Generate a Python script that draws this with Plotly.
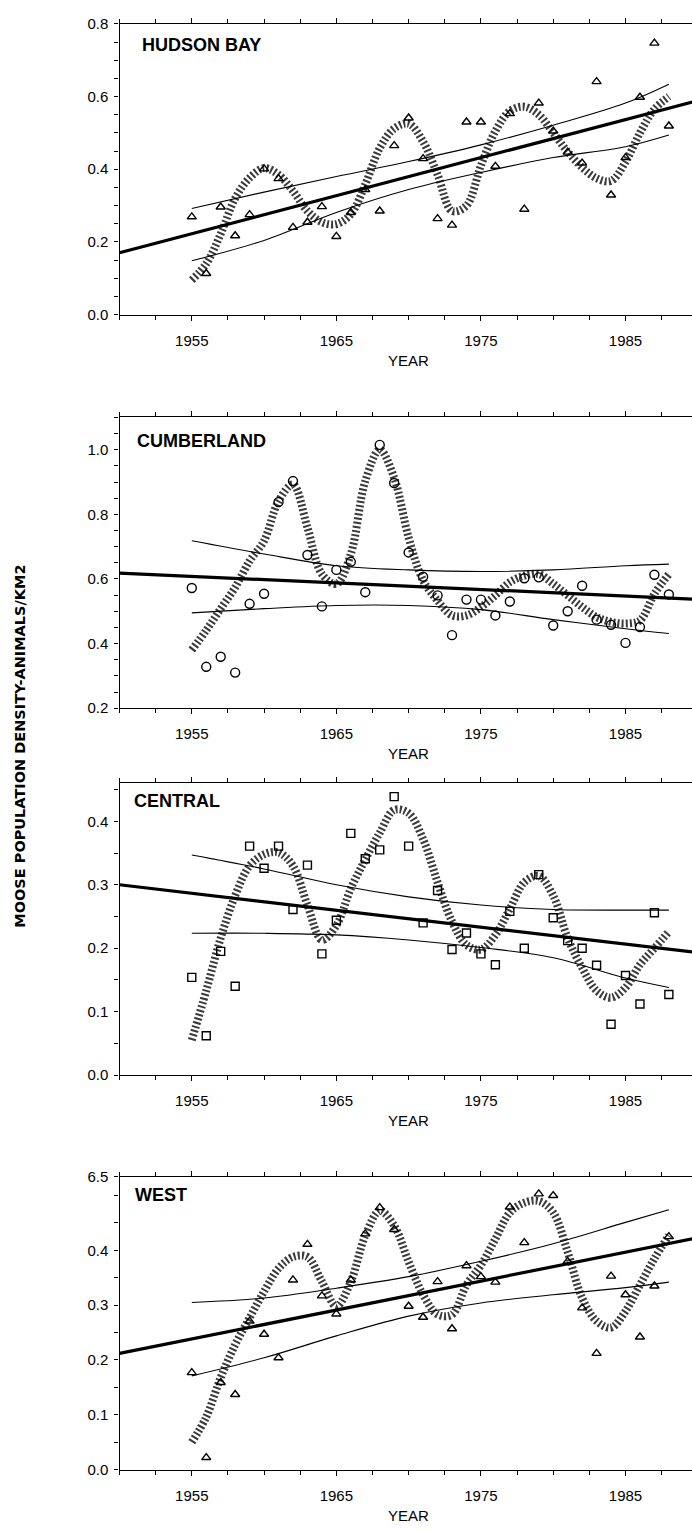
import plotly.graph_objects as go

# ---------------- data ----------------
years = list(range(1955, 1989))
ci_years = [1955, 1960, 1965, 1970, 1975, 1980, 1985, 1988]
trend_years = [1950, 1990]

# HUDSON BAY
hudson_obs = [0.269, 0.113, 0.296, 0.217, 0.275, 0.401, 0.374, 0.240, 0.254, 0.297,
              0.215, 0.281, 0.344, 0.285, 0.465, 0.541, 0.429, 0.264, 0.246, 0.530,
              0.530, 0.408, 0.553, 0.290, 0.582, 0.505, 0.447, 0.417, 0.641, 0.329,
              0.432, 0.598, 0.747, 0.519]
hudson_cycle = [0.095, 0.140, 0.222, 0.320, 0.376, 0.403, 0.385, 0.340, 0.285, 0.254,
                0.249, 0.276, 0.358, 0.458, 0.512, 0.525, 0.476, 0.385, 0.285, 0.300,
                0.410, 0.505, 0.560, 0.572, 0.550, 0.500, 0.448, 0.405, 0.375, 0.368,
                0.420, 0.500, 0.565, 0.600]
hudson_upper = [0.292, 0.337, 0.380, 0.421, 0.467, 0.521, 0.582, 0.634]
hudson_lower = [0.148, 0.204, 0.281, 0.344, 0.391, 0.432, 0.462, 0.494]
hudson_trend = [0.170, 0.589]

# CUMBERLAND
cumb_obs = [0.572, 0.328, 0.359, 0.310, 0.523, 0.554, 0.838, 0.903, 0.674, 0.515,
            0.628, 0.653, 0.559, 1.015, 0.897, 0.682, 0.607, 0.549, 0.426, 0.536,
            0.536, 0.487, 0.530, 0.602, 0.605, 0.456, 0.500, 0.579, 0.474, 0.458,
            0.402, 0.451, 0.613, 0.552]
cumb_cycle = [0.380, 0.441, 0.508, 0.574, 0.656, 0.718, 0.841, 0.892, 0.759, 0.615,
              0.585, 0.677, 0.903, 1.000, 0.913, 0.728, 0.595, 0.533, 0.487, 0.487,
              0.513, 0.549, 0.590, 0.610, 0.615, 0.585, 0.549, 0.513, 0.482, 0.467,
              0.462, 0.472, 0.554, 0.615]
cumb_upper = [0.718, 0.677, 0.641, 0.628, 0.623, 0.628, 0.641, 0.646]
cumb_lower = [0.495, 0.508, 0.518, 0.518, 0.505, 0.474, 0.446, 0.431]
cumb_trend = [0.618, 0.537]

# CENTRAL
central_obs = [0.154, 0.062, 0.195, 0.140, 0.361, 0.326, 0.361, 0.261, 0.331, 0.191,
               0.244, 0.381, 0.341, 0.355, 0.439, 0.361, 0.240, 0.291, 0.198, 0.224,
               0.191, 0.174, 0.258, 0.200, 0.316, 0.248, 0.212, 0.200, 0.173, 0.080,
               0.157, 0.112, 0.256, 0.127]
central_cycle = [0.055, 0.133, 0.216, 0.283, 0.330, 0.348, 0.351, 0.330, 0.268, 0.213,
                 0.236, 0.294, 0.340, 0.382, 0.418, 0.413, 0.372, 0.304, 0.242, 0.205,
                 0.198, 0.221, 0.262, 0.304, 0.314, 0.283, 0.216, 0.169, 0.133, 0.122,
                 0.138, 0.174, 0.200, 0.226]
central_upper = [0.347, 0.325, 0.300, 0.281, 0.268, 0.261, 0.260, 0.260]
central_lower = [0.2235, 0.2235, 0.221, 0.213, 0.201, 0.185, 0.153, 0.138]
central_trend = [0.300, 0.193]

# WEST
west_obs = [0.177, 0.022, 0.159, 0.137, 0.271, 0.247, 0.204, 0.346, 0.411, 0.317,
            0.284, 0.346, 0.430, 0.478, 0.438, 0.298, 0.278, 0.343, 0.257, 0.372,
            0.352, 0.342, 0.479, 0.414, 0.503, 0.500, 0.380, 0.295, 0.212, 0.353,
            0.319, 0.242, 0.335, 0.425]
west_cycle = [0.050, 0.096, 0.168, 0.228, 0.277, 0.325, 0.367, 0.388, 0.388, 0.343,
              0.298, 0.343, 0.427, 0.472, 0.445, 0.379, 0.319, 0.283, 0.283, 0.337,
              0.373, 0.421, 0.469, 0.487, 0.490, 0.469, 0.397, 0.313, 0.271, 0.259,
              0.289, 0.337, 0.385, 0.427]
west_upper = [0.305, 0.313, 0.331, 0.352, 0.380, 0.412, 0.451, 0.474]
west_lower = [0.171, 0.204, 0.244, 0.280, 0.304, 0.319, 0.332, 0.342]
west_trend = [0.212, 0.423]

panel_names = ["HUDSON BAY", "CUMBERLAND", "CENTRAL", "WEST"]
x_label_years = [1955, 1965, 1975, 1985]

# ---------------- layout geometry ----------------
W, H = 692, 1532
FONT = "Liberation Sans, Arial, Helvetica, sans-serif"
x_left_px = 119.5
panels_px = [(15, 309), (413, 707), (783, 1078), (1181, 1477)]   # top, bottom
label_px = [(140, 36), (135, 437), (132, 801), (133, 1199)]

panels = [
    dict(obs=hudson_obs, cycle=hudson_cycle, up=hudson_upper, lo=hudson_lower,
         trend=hudson_trend, symbol="triangle-up-open", msize=8,
         yrange=[0, 0.8], tickvals=[0, 0.2, 0.4, 0.6, 0.8],
         ticktext=["0.0", "0.2", "0.4", "0.6", "0.8"], minor=0.05),
    dict(obs=cumb_obs, cycle=cumb_cycle, up=cumb_upper, lo=cumb_lower,
         trend=cumb_trend, symbol="circle-open", msize=9,
         yrange=[0.2, 1.1], tickvals=[0.2, 0.4, 0.6, 0.8, 1.0],
         ticktext=["0.2", "0.4", "0.6", "0.8", "1.0"], minor=0.05),
    dict(obs=central_obs, cycle=central_cycle, up=central_upper, lo=central_lower,
         trend=central_trend, symbol="square-open", msize=8,
         yrange=[0, 0.46], tickvals=[0, 0.1, 0.2, 0.3, 0.4],
         ticktext=["0.0", "0.1", "0.2", "0.3", "0.4"], minor=0.05),
    dict(obs=west_obs, cycle=west_cycle, up=west_upper, lo=west_lower,
         trend=west_trend, symbol="triangle-up-open", msize=8,
         yrange=[0, 0.534], tickvals=[0, 0.1, 0.2, 0.3, 0.4, 0.534],
         ticktext=["0.0", "0.1", "0.2", "0.3", "0.4", "6.5"], minor=0.05),
]

fig = go.Figure()
layout = dict(
    width=W, height=H, margin=dict(l=0, r=0, t=0, b=0),
    paper_bgcolor="white", plot_bgcolor="white", showlegend=False,
    font=dict(family=FONT, color="black", size=15),
    annotations=[],
)

for i, p in enumerate(panels):
    n = i + 1
    xa = "x" if n == 1 else f"x{n}"
    ya = "y" if n == 1 else f"y{n}"
    top, bot = panels_px[i]
    # cycle band (stippled)
    fig.add_trace(go.Scatter(x=years, y=p["cycle"], mode="lines", xaxis=xa, yaxis=ya,
                             line=dict(color="#262626", width=8, dash="2px,2.2px",
                                       shape="spline", smoothing=1.0),
                             opacity=0.9, hoverinfo="skip"))
    # confidence limits
    for band in (p["up"], p["lo"]):
        fig.add_trace(go.Scatter(x=ci_years, y=band, mode="lines", xaxis=xa, yaxis=ya,
                                 line=dict(color="black", width=1.1, shape="spline"),
                                 hoverinfo="skip"))
    # trend line
    fig.add_trace(go.Scatter(x=trend_years, y=p["trend"], mode="lines", xaxis=xa, yaxis=ya,
                             line=dict(color="black", width=3.2), hoverinfo="skip"))
    # observations
    fig.add_trace(go.Scatter(x=years, y=p["obs"], mode="markers", xaxis=xa, yaxis=ya,
                             marker=dict(symbol=p["symbol"], size=p["msize"], color="black",
                                         line=dict(width=1.4, color="black"))))

    xkey = "xaxis" if n == 1 else f"xaxis{n}"
    ykey = "yaxis" if n == 1 else f"yaxis{n}"
    layout[xkey] = dict(
        domain=[x_left_px / W, 1.0], anchor=ya, range=[1950, 1989.6],
        showgrid=False, zeroline=False, showline=True, linecolor="black", linewidth=1.3,
        mirror="ticks", ticks="outside", ticklen=5, tickwidth=1.2, tickcolor="black",
        tickvals=x_label_years, ticktext=[str(v) for v in x_label_years],
        tickfont=dict(family=FONT, size=15, color="black"), ticklabelstandoff=7,
        minor=dict(ticks="outside", dtick=2.5, tick0=1950, ticklen=4, tickwidth=1.1,
                   tickcolor="black", showgrid=False),
    )
    layout[ykey] = dict(
        domain=[1 - bot / H, 1 - top / H], anchor=xa, range=p["yrange"],
        showgrid=False, zeroline=False, showline=True, linecolor="black", linewidth=1.3,
        ticks="outside", ticklen=4, tickwidth=1.2, tickcolor="black",
        tickvals=p["tickvals"], ticktext=p["ticktext"],
        tickfont=dict(family=FONT, size=15, color="black"), ticklabelstandoff=3,
        minor=dict(ticks="outside", dtick=p["minor"], tick0=0, ticklen=4, tickwidth=1.1,
                   tickcolor="black", showgrid=False),
    )
    lx, ly = label_px[i]
    layout["annotations"].append(dict(
        text=panel_names[i], x=lx / W, y=1 - ly / H, xref="paper", yref="paper",
        xanchor="left", yanchor="middle", showarrow=False,
        font=dict(family=FONT, size=18, color="black", weight="bold")))
    layout["annotations"].append(dict(
        text="YEAR", x=408 / W, y=1 - (bot + 46) / H, xref="paper", yref="paper",
        xanchor="center", yanchor="middle", showarrow=False,
        font=dict(family=FONT, size=15, color="black")))

layout["annotations"].append(dict(
    text="MOOSE POPULATION DENSITY-ANIMALS/KM2", x=20 / W, y=1 - 746 / H,
    xref="paper", yref="paper", xanchor="center", yanchor="middle", textangle=-90,
    showarrow=False,
    font=dict(family="DejaVu Sans, sans-serif", size=14.5, color="black", weight="bold")))

fig.update_layout(**layout)
fig.write_html("out.html",
               config={"displayModeBar": False},
               post_script="document.body.style.margin='0px';document.body.style.padding='0px';")
